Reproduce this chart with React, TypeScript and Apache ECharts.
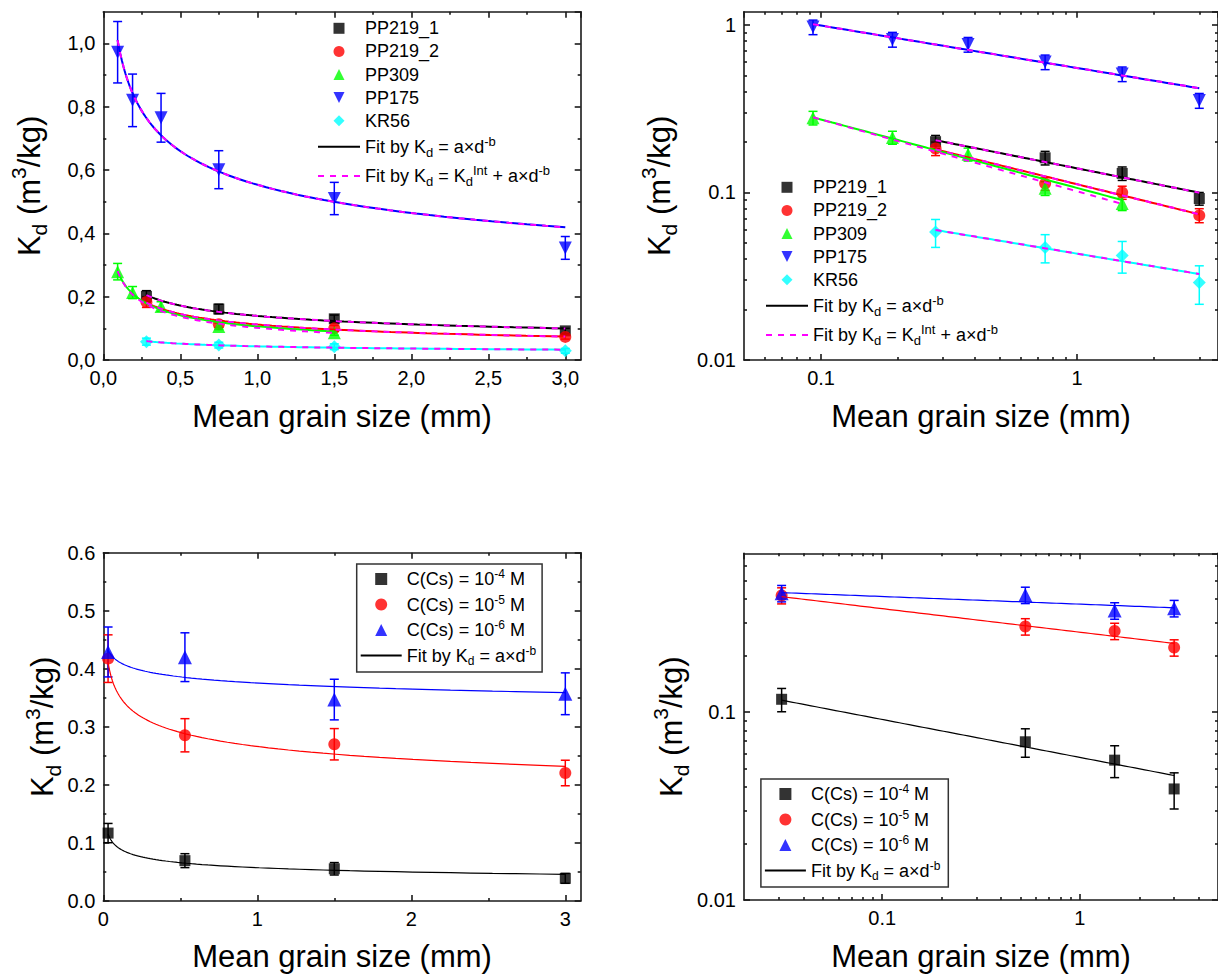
import React, { useEffect, useRef } from 'react';
import * as echarts from 'echarts';

// ======================= DATA =======================
// Top row: Kd (m3/kg) versus mean grain size (mm), five samples
const topSamples = ['PP219_1', 'PP219_2', 'PP309', 'PP175', 'KR56'];

const pp219_1X = [0.28, 0.75, 1.5, 3.0];
const pp219_1Y = [0.201, 0.161, 0.130, 0.092];
const pp219_1Err = [0.018, 0.015, 0.012, 0.008];

const pp219_2X = [0.28, 0.75, 1.5, 3.0];
const pp219_2Y = [0.183, 0.113, 0.100, 0.073];
const pp219_2Err = [0.017, 0.010, 0.009, 0.007];

const pp309X = [0.093, 0.19, 0.375, 0.75, 1.5];
const pp309Y = [0.279, 0.213, 0.169, 0.106, 0.086];
const pp309Err = [0.026, 0.019, 0.015, 0.010, 0.008];

const pp175X = [0.093, 0.19, 0.375, 0.75, 1.5, 3.0];
const pp175Y = [0.972, 0.820, 0.765, 0.601, 0.510, 0.354];
const pp175Err = [0.097, 0.083, 0.077, 0.060, 0.051, 0.036];

const kr56X = [0.28, 0.75, 1.5, 3.0];
const kr56Y = [0.058, 0.047, 0.042, 0.029];
const kr56Err = [0.011, 0.009, 0.009, 0.0075];

// Fit Kd = a·d^-b (same order as topSamples)
const topFitA = [0.1393, 0.112, 0.1064, 0.5535, 0.04315];
const topFitB = [0.304, 0.3766, 0.4087, 0.2533, 0.2551];
const topFitFrom = [0.28, 0.28, 0.093, 0.093, 0.28];
const topFitTo = [3.0, 3.0, 1.5, 3.0, 3.0];
// Fit Kd = Kd_Int + a·d^-b
const topIntK = [0, 0, 0, 0, 0];
const topIntA = [0.1393, 0.112, 0.1016, 0.5535, 0.04315];
const topIntB = [0.304, 0.3766, 0.4283, 0.2533, 0.2551];

// Bottom row: Kd versus mean grain size for three Cs concentrations
const concLabels = ['10{sup|-4}', '10{sup|-5}', '10{sup|-6}'];
const bottomX = [0.031, 0.53, 1.5, 3.0];
const c4Y = [0.117, 0.0695, 0.0555, 0.039];
const c4Err = [0.0166, 0.012, 0.0107, 0.0085];
const c5Y = [0.4175, 0.2855, 0.270, 0.2205];
const c5Err = [0.041, 0.0286, 0.027, 0.022];
const c6Y = [0.429, 0.420, 0.347, 0.357];
const c6Err = [0.043, 0.042, 0.035, 0.036];
const bottomFitA = [0.0574, 0.2662, 0.3754];
const bottomFitB = [0.2018, 0.1253, 0.0407];
const bottomFitFrom = 0.031;
const bottomFitTo = 3.0;

// Minor tick values
const tlXMinor = [0.25, 0.75, 1.25, 1.75, 2.25, 2.75];
const tlYMinor = [0.1, 0.3, 0.5, 0.7, 0.9];
const blXMinor = [0.5, 1.5, 2.5];
const blYMinor = [0.05, 0.15, 0.25, 0.35, 0.45, 0.55];
const trXMinor = [0.06, 0.07, 0.08, 0.09, 0.2, 0.3, 0.4, 0.5, 0.6, 0.7, 0.8, 0.9, 2, 3];
const trYMinor = [0.02, 0.03, 0.04, 0.05, 0.06, 0.07, 0.08, 0.09, 0.2, 0.3, 0.4, 0.5, 0.6, 0.7, 0.8, 0.9];
const brXMinor = [0.03, 0.04, 0.05, 0.06, 0.07, 0.08, 0.09, 0.2, 0.3, 0.4, 0.5, 0.6, 0.7, 0.8, 0.9, 2, 3, 4];
const brYMinor = [0.02, 0.03, 0.04, 0.05, 0.06, 0.07, 0.08, 0.09, 0.2, 0.3, 0.4, 0.5, 0.6];

// ======================= STYLE =======================
const FONT = '"Liberation Sans", Arial, Helvetica, sans-serif';
const AXC = '#1a1a1a';
const SQUARE = 'path://M0,0 L10,0 L10,10 L0,10 Z';
const UP_TRI = 'path://M5,0 L10,10 L0,10 Z';
const DOWN_TRI = 'path://M0,0 L10,0 L5,10 Z';
const DIAMOND = 'path://M5,0 L10,5 L5,10 L0,5 Z';
const CLEAR = 'rgba(0,0,0,0)';

function fitCurve(a: number, b: number, k: number, x0: number, x1: number) {
  const pts: number[][] = [];
  const n = 80;
  for (let i = 0; i <= n; i++) {
    const x = x0 * Math.pow(x1 / x0, i / n);
    pts.push([x, k + a * Math.pow(x, -b)]);
  }
  return pts;
}

function zip(xs: number[], ys: number[]) {
  return xs.map((x, i) => [x, ys[i]]);
}
function zip3(xs: number[], ys: number[], es: number[]) {
  return xs.map((x, i) => [x, ys[i], es[i]]);
}

function errRender(color: string, cap: number, lw: number) {
  return (params: any, api: any) => {
    const x = api.value(0);
    const y = api.value(1);
    const e = api.value(2);
    const p1 = api.coord([x, y + e]);
    const p2 = api.coord([x, y - e]);
    const style = { stroke: color, lineWidth: lw };
    return {
      type: 'group',
      children: [
        { type: 'line', shape: { x1: p1[0], y1: p1[1], x2: p2[0], y2: p2[1] }, style },
        { type: 'line', shape: { x1: p1[0] - cap, y1: p1[1], x2: p1[0] + cap, y2: p1[1] }, style },
        { type: 'line', shape: { x1: p2[0] - cap, y1: p2[1], x2: p2[0] + cap, y2: p2[1] }, style },
      ],
    };
  };
}

function buildOption() {
  const xAxis: any[] = [];
  const yAxis: any[] = [];
  const series: any[] = [];
  const legend: any[] = [];

  const lineSt = { color: AXC, width: 1.6 };
  const labelBase = { color: '#000', fontSize: 20, fontFamily: FONT, margin: 8 };
  const xNameStyle = { color: '#000', fontSize: 31, fontFamily: FONT, lineHeight: 36 };
  const subSup = {
    sub: { fontSize: 21, lineHeight: 21, verticalAlign: 'bottom', fontFamily: FONT, color: '#000' },
    sup: { fontSize: 21, lineHeight: 21, verticalAlign: 'top', fontFamily: FONT, color: '#000' },
  };
  const yNameStyle = { color: '#000', fontSize: 31, fontFamily: FONT, lineHeight: 42, rich: subSup };
  const Y_NAME = 'K{sub|d} (m{sup|3}/kg)';
  const X_NAME = 'Mean grain size (mm)';

  const comma = (v: number) => v.toFixed(1).replace('.', ',');
  const dot1 = (v: number) => v.toFixed(1);
  const int0 = (v: number) => String(Math.round(v));
  const logFmt = (v: number) => String(+Number(v).toPrecision(3));

  function push(dim: string, ax: any) {
    const arr = dim === 'x' ? xAxis : yAxis;
    arr.push(ax);
    return arr.length - 1;
  }

  function nameCfg(dim: string, name?: string, gap?: number) {
    if (!name) return {};
    if (dim === 'x') return { name, nameLocation: 'middle', nameGap: gap, nameTextStyle: xNameStyle };
    return { name, nameLocation: 'middle', nameRotate: 90, nameGap: gap, nameTextStyle: yNameStyle };
  }

  function addLinear(dim: string, grid: number, pos: string, min: number, max: number, interval: number,
    fmt: any, labels: boolean, showMax: boolean, name?: string, gap?: number) {
    return push(dim, {
      type: 'value', gridIndex: grid, position: pos, min, max, interval,
      axisLine: { show: true, onZero: false, lineStyle: lineSt },
      axisTick: { show: true, inside: true, length: 6, lineStyle: lineSt },
      minorTick: { show: false },
      splitLine: { show: false }, minorSplitLine: { show: false },
      axisLabel: { ...labelBase, show: labels, formatter: fmt, showMinLabel: true, showMaxLabel: showMax },
      ...nameCfg(dim, name, gap),
    });
  }

  function addLog(dim: string, grid: number, pos: string, min: number, max: number, labels: boolean,
    showMin: boolean, name?: string, gap?: number) {
    return push(dim, {
      type: 'log', logBase: 10, gridIndex: grid, position: pos, min, max,
      axisLine: { show: true, onZero: false, lineStyle: lineSt },
      axisTick: { show: true, inside: true, length: 6, lineStyle: lineSt },
      minorTick: { show: false },
      splitLine: { show: false },
      axisLabel: { ...labelBase, show: labels, formatter: logFmt, showMinLabel: showMin, showMaxLabel: false },
      ...nameCfg(dim, name, gap),
    });
  }

  function addMinor(type: string, dim: string, grid: number, pos: string, min: number, max: number, ticks: number[]) {
    const extra = type === 'log' ? { logBase: 10 } : {};
    return push(dim, {
      type, ...extra, gridIndex: grid, position: pos, min, max,
      axisLine: { show: false, onZero: false },
      axisTick: { show: true, inside: true, length: 3, customValues: ticks, lineStyle: lineSt },
      axisLabel: { show: false },
      splitLine: { show: false },
    });
  }

  const grid = [
    { left: 103.3, top: 11.7, width: 477.4, height: 348.3 },
    { left: 744, top: 11.7, width: 476, height: 348.3 },
    { left: 103.3, top: 552.7, width: 477.4, height: 349 },
    { left: 744, top: 553.3, width: 476, height: 347.4 },
  ];

  // ---- axes: top-left (linear) ----
  const tlx = addLinear('x', 0, 'bottom', 0, 3.1, 0.5, comma, true, false, X_NAME, 38.7);
  addLinear('x', 0, 'top', 0, 3.1, 0.5, comma, false, false);
  addMinor('value', 'x', 0, 'bottom', 0, 3.1, tlXMinor);
  addMinor('value', 'x', 0, 'top', 0, 3.1, tlXMinor);
  const tly = addLinear('y', 0, 'left', 0, 1.1, 0.2, comma, true, false, Y_NAME, 53);
  addLinear('y', 0, 'right', 0, 1.1, 0.2, comma, false, false);
  addMinor('value', 'y', 0, 'left', 0, 1.1, tlYMinor);
  addMinor('value', 'y', 0, 'right', 0, 1.1, tlYMinor);

  // ---- top-right (log-log) ----
  const trx = addLog('x', 1, 'bottom', 0.05, 3.55, true, false, X_NAME, 38.7);
  addLog('x', 1, 'top', 0.05, 3.55, false, false);
  addMinor('log', 'x', 1, 'bottom', 0.05, 3.55, trXMinor);
  addMinor('log', 'x', 1, 'top', 0.05, 3.55, trXMinor);
  const try_ = addLog('y', 1, 'left', 0.01, 1.2, true, true, Y_NAME, 64);
  addLog('y', 1, 'right', 0.01, 1.2, false, false);
  addMinor('log', 'y', 1, 'left', 0.01, 1.2, trYMinor);
  addMinor('log', 'y', 1, 'right', 0.01, 1.2, trYMinor);

  // ---- bottom-left (linear) ----
  const blx = addLinear('x', 2, 'bottom', 0, 3.1, 1, int0, true, false, X_NAME, 37);
  addLinear('x', 2, 'top', 0, 3.1, 1, int0, false, false);
  addMinor('value', 'x', 2, 'bottom', 0, 3.1, blXMinor);
  addMinor('value', 'x', 2, 'top', 0, 3.1, blXMinor);
  const bly = addLinear('y', 2, 'left', 0, 0.6, 0.1, dot1, true, true, Y_NAME, 39);
  addLinear('y', 2, 'right', 0, 0.6, 0.1, dot1, false, false);
  addMinor('value', 'y', 2, 'left', 0, 0.6, blYMinor);
  addMinor('value', 'y', 2, 'right', 0, 0.6, blYMinor);

  // ---- bottom-right (log-log) ----
  const brx = addLog('x', 3, 'bottom', 0.02, 5, true, false, X_NAME, 38);
  addLog('x', 3, 'top', 0.02, 5, false, false);
  addMinor('log', 'x', 3, 'bottom', 0.02, 5, brXMinor);
  addMinor('log', 'x', 3, 'top', 0.02, 5, brXMinor);
  const bry = addLog('y', 3, 'left', 0.01, 0.7, true, true, Y_NAME, 52);
  addLog('y', 3, 'right', 0.01, 0.7, false, false);
  addMinor('log', 'y', 3, 'left', 0.01, 0.7, brYMinor);
  addMinor('log', 'y', 3, 'right', 0.01, 0.7, brYMinor);

  // ---- top panels ----
  const topSets = [
    { x: pp219_1X, y: pp219_1Y, e: pp219_1Err, color: '#000000', symbol: SQUARE, size: 11 },
    { x: pp219_2X, y: pp219_2Y, e: pp219_2Err, color: '#ff0000', symbol: 'circle', size: 12 },
    { x: pp309X, y: pp309Y, e: pp309Err, color: '#00ff00', symbol: UP_TRI, size: 13 },
    { x: pp175X, y: pp175Y, e: pp175Err, color: '#0000ff', symbol: DOWN_TRI, size: 13 },
    { x: kr56X, y: kr56Y, e: kr56Err, color: '#00ffff', symbol: DIAMOND, size: 13 },
  ];

  const panelsTop = [
    { p: 'TL', xi: tlx, yi: tly },
    { p: 'TR', xi: trx, yi: try_ },
  ];
  panelsTop.forEach(({ p, xi, yi }) => {
    topSets.forEach((s, i) => {
      series.push({
        type: 'custom', name: p + ':err' + i, xAxisIndex: xi, yAxisIndex: yi,
        renderItem: errRender(s.color, 4.5, 1.5), data: zip3(s.x, s.y, s.e),
        encode: { x: 0, y: 1 }, z: 2, silent: true,
      });
      series.push({
        type: 'scatter', name: p + ':' + topSamples[i], xAxisIndex: xi, yAxisIndex: yi,
        data: zip(s.x, s.y), symbol: s.symbol, symbolSize: s.size,
        itemStyle: { color: s.color }, z: 3, silent: true,
      });
    });
    topSets.forEach((s, i) => {
      series.push({
        type: 'line', name: p + ':fit', xAxisIndex: xi, yAxisIndex: yi,
        data: fitCurve(topFitA[i], topFitB[i], 0, topFitFrom[i], topFitTo[i]),
        symbol: 'circle', showSymbol: false, lineStyle: { color: s.color, width: 2 },
        itemStyle: { color: CLEAR, borderWidth: 0 }, z: 4, silent: true,
      });
      series.push({
        type: 'line', name: p + ':fitInt', xAxisIndex: xi, yAxisIndex: yi,
        data: fitCurve(topIntA[i], topIntB[i], topIntK[i], topFitFrom[i], topFitTo[i]),
        symbol: 'circle', showSymbol: false, lineStyle: { color: '#ff00ff', width: 2, type: [6, 6] },
        itemStyle: { color: CLEAR, borderWidth: 0 }, z: 5, silent: true,
      });
    });
  });

  // ---- bottom panels ----
  const botSets = [
    { y: c4Y, e: c4Err, color: '#000000', symbol: SQUARE, size: 11 },
    { y: c5Y, e: c5Err, color: '#ff0000', symbol: 'circle', size: 12 },
    { y: c6Y, e: c6Err, color: '#0000ff', symbol: UP_TRI, size: 14 },
  ];
  const panelsBot = [
    { p: 'BL', xi: blx, yi: bly },
    { p: 'BR', xi: brx, yi: bry },
  ];
  panelsBot.forEach(({ p, xi, yi }) => {
    botSets.forEach((s, i) => {
      series.push({
        type: 'custom', name: p + ':err' + i, xAxisIndex: xi, yAxisIndex: yi,
        renderItem: errRender(s.color, 4.5, 1.5), data: zip3(bottomX, s.y, s.e),
        encode: { x: 0, y: 1 }, z: 2, silent: true,
      });
      series.push({
        type: 'scatter', name: p + ':c' + i, xAxisIndex: xi, yAxisIndex: yi,
        data: zip(bottomX, s.y), symbol: s.symbol, symbolSize: s.size,
        itemStyle: { color: s.color }, z: 3, silent: true,
      });
    });
    botSets.forEach((s, i) => {
      series.push({
        type: 'line', name: p + ':fit', xAxisIndex: xi, yAxisIndex: yi,
        data: fitCurve(bottomFitA[i], bottomFitB[i], 0, bottomFitFrom, bottomFitTo),
        symbol: 'circle', showSymbol: false, lineStyle: { color: s.color, width: 1.2 },
        itemStyle: { color: CLEAR, borderWidth: 0 }, z: 4, silent: true,
      });
    });
  });

  // ---- legends ----
  const legRich = {
    sub: { fontSize: 12, lineHeight: 12, verticalAlign: 'bottom', fontFamily: FONT, color: '#000' },
    sup: { fontSize: 12, lineHeight: 12, verticalAlign: 'top', fontFamily: FONT, color: '#000' },
  };
  const topRich = {
    sub: { fontSize: 13, lineHeight: 13, padding: [11, 0, 0, 0], verticalAlign: 'middle', fontFamily: FONT, color: '#000' },
    sup: { fontSize: 13, lineHeight: 13, padding: [0, 0, 11, 0], verticalAlign: 'middle', fontFamily: FONT, color: '#000' },
  };
  const fitFmt = (n: string) => {
    const k = n.split(':')[1];
    if (k === 'fitInt') return 'Fit by K{sub|d} = K{sub|d}{sup|Int} + a×d{sup|-b}';
    if (k === 'fit') return 'Fit by K{sub|d} = a×d{sup|-b}';
    if (/^c\d$/.test(k)) return 'C(Cs) = ' + concLabels[Number(k.slice(1))] + ' M';
    return k;
  };
  const topLegend = (p: string, left: number, top: number) => ({
    data: topSamples.map((k) => p + ':' + k).concat([p + ':fit', p + ':fitInt']),
    orient: 'vertical', left, top,
    itemWidth: 42, itemHeight: 11, itemGap: 5.1, padding: 0, selectedMode: false,
    textStyle: { fontSize: 18, lineHeight: 18, fontFamily: FONT, color: '#000', rich: topRich },
    formatter: fitFmt,
  });
  const boxLegend = (p: string, left: number, top: number, padding: number[]) => ({
    data: [p + ':c0', p + ':c1', p + ':c2', p + ':fit'], orient: 'vertical', left, top,
    itemWidth: 41, itemHeight: 12, itemGap: 3.5, padding, selectedMode: false,
    borderColor: '#333', borderWidth: 1.5, borderRadius: 0,
    textStyle: { fontSize: 18, lineHeight: 22, fontFamily: FONT, color: '#000', rich: legRich },
    formatter: fitFmt,
  });
  legend.push(topLegend('TL', 317, 19.3));
  legend.push(topLegend('TR', 765, 178.3));
  legend.push(boxLegend('BL', 356.7, 564, [4, 6, 5.5, 3]));
  legend.push(boxLegend('BR', 760.9, 779, [4, 8, 5.6, 3]));

  return {
    animation: false,
    backgroundColor: '#ffffff',
    textStyle: { fontFamily: FONT },
    grid,
    xAxis,
    yAxis,
    legend,
    series,
  };
}

export default function App() {
  const ref = useRef<HTMLDivElement>(null);
  useEffect(() => {
    document.body.style.margin = '0';
    const chart = echarts.init(ref.current as HTMLDivElement, null, { renderer: 'svg', width: 1218, height: 975 });
    chart.setOption(buildOption() as any);
    return () => {
      chart.dispose();
    };
  }, []);
  return (
    <div
      ref={ref}
      style={{ position: 'absolute', left: 0, top: 0, width: 1218, height: 975, overflow: 'hidden', background: '#fff' }}
    />
  );
}
